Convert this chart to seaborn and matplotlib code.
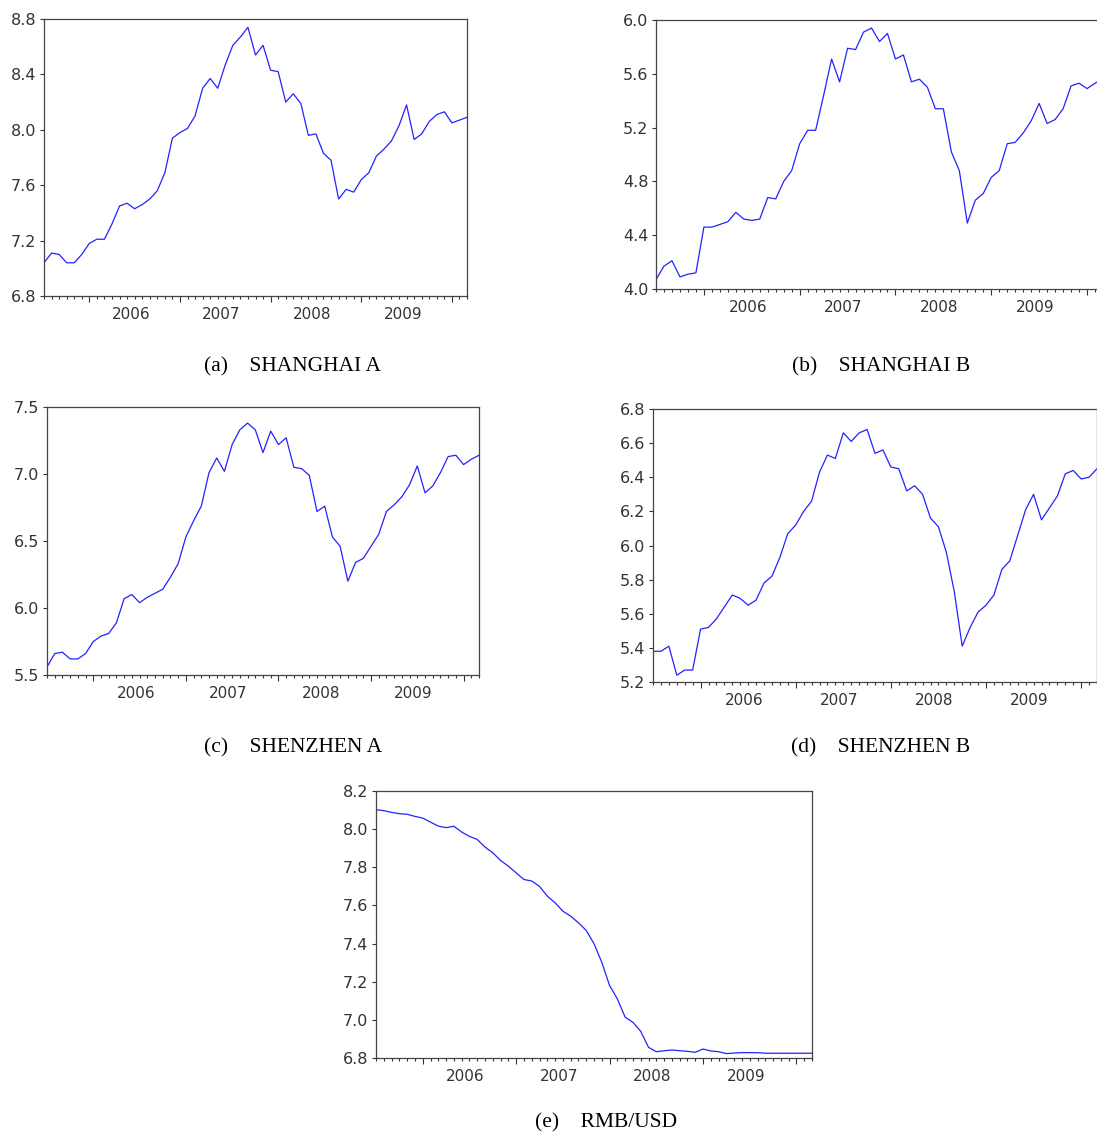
import numpy as np
import pandas as pd
import seaborn as sns
import matplotlib
matplotlib.use("Agg")
import matplotlib.pyplot as plt
from matplotlib.ticker import MultipleLocator, FixedLocator

# monthly observations, 2005M07 - 2010M03
months = pd.period_range("2005-07", "2010-03", freq="M")
years = ["2006", "2007", "2008", "2009"]

sh_a = [7.04, 7.11, 7.10, 7.04, 7.04, 7.10, 7.18, 7.21, 7.21, 7.32,
        7.45, 7.47, 7.43, 7.46, 7.50, 7.56, 7.69, 7.94, 7.98, 8.01,
        8.10, 8.30, 8.37, 8.30, 8.47, 8.61, 8.67, 8.74, 8.54, 8.61,
        8.43, 8.42, 8.20, 8.26, 8.19, 7.96, 7.97, 7.83, 7.78, 7.50,
        7.57, 7.55, 7.64, 7.69, 7.81, 7.86, 7.92, 8.03, 8.18, 7.93,
        7.97, 8.06, 8.11, 8.13, 8.05, 8.07, 8.09]

sh_b = [4.07, 4.17, 4.21, 4.09, 4.11, 4.12, 4.46, 4.46, 4.48, 4.50,
        4.57, 4.52, 4.51, 4.52, 4.68, 4.67, 4.80, 4.88, 5.08, 5.18,
        5.18, 5.44, 5.71, 5.54, 5.79, 5.78, 5.91, 5.94, 5.84, 5.90,
        5.71, 5.74, 5.54, 5.56, 5.50, 5.34, 5.34, 5.02, 4.88, 4.49,
        4.66, 4.71, 4.83, 4.88, 5.08, 5.09, 5.16, 5.25, 5.38, 5.23,
        5.26, 5.34, 5.51, 5.53, 5.49, 5.53, 5.56]

sz_a = [5.56, 5.66, 5.67, 5.62, 5.62, 5.66, 5.75, 5.79, 5.81, 5.89,
        6.07, 6.10, 6.04, 6.08, 6.11, 6.14, 6.23, 6.33, 6.53, 6.65,
        6.76, 7.01, 7.12, 7.02, 7.22, 7.33, 7.38, 7.33, 7.16, 7.32,
        7.22, 7.27, 7.05, 7.04, 6.99, 6.72, 6.76, 6.53, 6.46, 6.20,
        6.34, 6.37, 6.46, 6.55, 6.72, 6.77, 6.83, 6.92, 7.06, 6.86,
        6.91, 7.01, 7.13, 7.14, 7.07, 7.11, 7.14]

sz_b = [5.38, 5.38, 5.41, 5.24, 5.27, 5.27, 5.51, 5.52, 5.57, 5.64,
        5.71, 5.69, 5.65, 5.68, 5.78, 5.82, 5.93, 6.07, 6.12, 6.20,
        6.26, 6.43, 6.53, 6.51, 6.66, 6.61, 6.66, 6.68, 6.54, 6.56,
        6.46, 6.45, 6.32, 6.35, 6.30, 6.16, 6.11, 5.96, 5.73, 5.41,
        5.52, 5.61, 5.65, 5.71, 5.86, 5.91, 6.06, 6.21, 6.30, 6.15,
        6.22, 6.29, 6.42, 6.44, 6.39, 6.40, 6.45]

rmb_usd = [8.102, 8.097, 8.088, 8.081, 8.078, 8.067, 8.058, 8.037, 8.016, 8.008,
           8.015, 7.985, 7.962, 7.946, 7.906, 7.876, 7.836, 7.806, 7.771, 7.736,
           7.728, 7.700, 7.649, 7.614, 7.570, 7.544, 7.509, 7.469, 7.399, 7.302,
           7.180, 7.110, 7.014, 6.987, 6.940, 6.856, 6.833, 6.838, 6.842, 6.838,
           6.835, 6.830, 6.847, 6.837, 6.833, 6.823, 6.826, 6.828, 6.828, 6.828,
           6.825, 6.825, 6.825, 6.825, 6.825, 6.825, 6.825]

W, H = 1097, 1133
fig = plt.figure(figsize=(W / 100, H / 100), dpi=100)
sns.set_style("white")
plt.rcParams['font.family'] = ['DejaVu Sans']


def px_axes(left, top, right, bottom):
    return fig.add_axes([left / W, 1 - bottom / H, (right - left) / W, (bottom - top) / H])


panels = [
    (sh_a, (44, 19, 467, 296), (6.8, 8.8), 0.4, "(a)    SHANGHAI A", (293, 367)),
    (sh_b, (656, 20, 1103, 289), (4.0, 6.0), 0.4, "(b)    SHANGHAI B", (881, 367)),
    (sz_a, (47, 407, 479, 675), (5.5, 7.5), 0.5, "(c)    SHENZHEN A", (293, 748)),
    (sz_b, (653, 409, 1097, 682), (5.2, 6.8), 0.2, "(d)    SHENZHEN B", (881, 748)),
    (rmb_usd, (376, 791, 812, 1058), (6.8, 8.2), 0.2, "(e)    RMB/USD", (606, 1123)),
]

idx = np.arange(len(months))
for values, box, ylim, step, caption, cap_pos in panels:
    ax = px_axes(*box)
    df = pd.DataFrame({"t": idx, "v": values})
    sns.lineplot(data=df, x="t", y="v", ax=ax, color="#2222ff", linewidth=0.9)
    ax.set_xlim(0, len(months) - 1)
    ax.set_ylim(*ylim)
    ax.yaxis.set_major_locator(MultipleLocator(step))
    ax.yaxis.set_major_formatter(matplotlib.ticker.FormatStrFormatter("%.1f"))
    year_starts = [i for i, m in enumerate(months) if m.month == 1]
    ax.xaxis.set_major_locator(FixedLocator(year_starts))
    ax.xaxis.set_minor_locator(MultipleLocator(1))
    ax.set_xticklabels([])
    for k, y in enumerate(years):
        ax.text(year_starts[k] + 5.5, -0.04, y, transform=ax.get_xaxis_transform(),
                ha="center", va="top", fontsize=11, color="#333333")
    ax.set_xlabel("")
    ax.set_ylabel("")
    ax.tick_params(axis="y", direction="out", length=3, width=0.8, colors="#333333",
                   labelsize=11.5, pad=2.5, left=True)
    ax.tick_params(axis="x", which="major", direction="out", length=4.5, width=0.8,
                   colors="#333333", bottom=True)
    ax.tick_params(axis="x", which="minor", direction="out", length=2, width=0.8,
                   colors="#333333", bottom=True)
    for s in ax.spines.values():
        s.set_color("#444444")
        s.set_linewidth(0.9)
    fig.text(cap_pos[0] / W, 1 - cap_pos[1] / H, caption, ha="center", va="center",
             fontsize=15.5, family="Liberation Serif", color="black")

fig.savefig("out.png", dpi=100)
